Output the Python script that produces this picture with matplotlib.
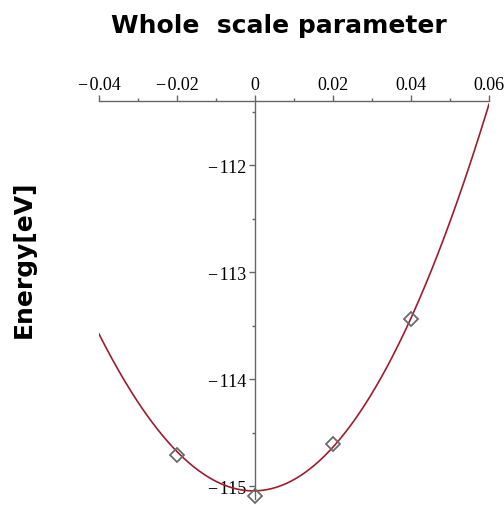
import numpy as np
import matplotlib
matplotlib.use("Agg")
import matplotlib.pyplot as plt
from matplotlib.ticker import MultipleLocator, FuncFormatter

# computed points (scale parameter, energy in eV)
scale = [-0.02, 0.0, 0.02, 0.04]
energy = [-114.71, -115.09, -114.61, -113.44]

# fitted curve
curve_x = [-0.04, -0.03, -0.02, -0.01, 0.0, 0.01, 0.02, 0.03, 0.04, 0.05, 0.06]
curve_e = [-113.58, -114.21, -114.68, -114.95, -115.05, -114.95, -114.62, -114.12,
           -113.45, -112.52, -111.43]

fig = plt.figure(figsize=(5.04, 5.06), dpi=100)
ax = fig.add_axes([99/504, 1-500/506, 390/504, 398/506])

# smooth fit through the read curve samples
coef = np.polyfit(curve_x, curve_e, 4)
xs = np.linspace(-0.04, 0.06, 300)
ax.plot(xs, np.polyval(coef, xs), color="#a01c2c", lw=1.2, zorder=3)
ax.plot(scale, energy, ls="none", marker="D", ms=7.5, mfc="none",
        mec="#6a6a6a", mew=1.3, clip_on=False, zorder=4)

ax.set_xlim(-0.04, 0.06)
ax.set_ylim(-115.12, -111.40)

# Maple style axes: x axis on top, y axis through zero
for s in ["bottom", "right"]:
    ax.spines[s].set_visible(False)
ax.spines["left"].set_position(("data", 0))
for s in ["left", "top"]:
    ax.spines[s].set_color("#666666")
    ax.spines[s].set_linewidth(1.0)

ax.xaxis.set_ticks_position("top")
ax.xaxis.set_label_position("top")
ax.xaxis.set_major_locator(MultipleLocator(0.02))
ax.xaxis.set_minor_locator(MultipleLocator(0.01))
ax.yaxis.set_major_locator(MultipleLocator(1))
ax.yaxis.set_minor_locator(MultipleLocator(0.5))

def fmt(v, pos):
    if abs(v) < 1e-9:
        return "0"
    s = ("%.2f" % v) if abs(v) < 1 else ("%d" % round(v))
    return s.replace("-", "\u2212\u200a")

ax.xaxis.set_major_formatter(FuncFormatter(fmt))
ax.yaxis.set_major_formatter(FuncFormatter(fmt))

ax.tick_params(which="major", direction="out", length=4, width=1.0, color="#666666",
               labelsize=13, pad=2)
ax.tick_params(which="minor", direction="out", length=2, width=1.0, color="#666666")
for lab in ax.get_xticklabels() + ax.get_yticklabels():
    lab.set_fontfamily("Liberation Serif")

fig.text(0.553, 0.948, "Whole  scale parameter", ha="center", va="center",
         fontsize=18, fontfamily="DejaVu Sans", fontweight="bold")
fig.text(0.048, 0.488, "Energy[eV]", ha="center", va="center", rotation=90,
         fontsize=18, fontfamily="DejaVu Sans", fontweight="bold")

fig.savefig("out.png", dpi=100)
